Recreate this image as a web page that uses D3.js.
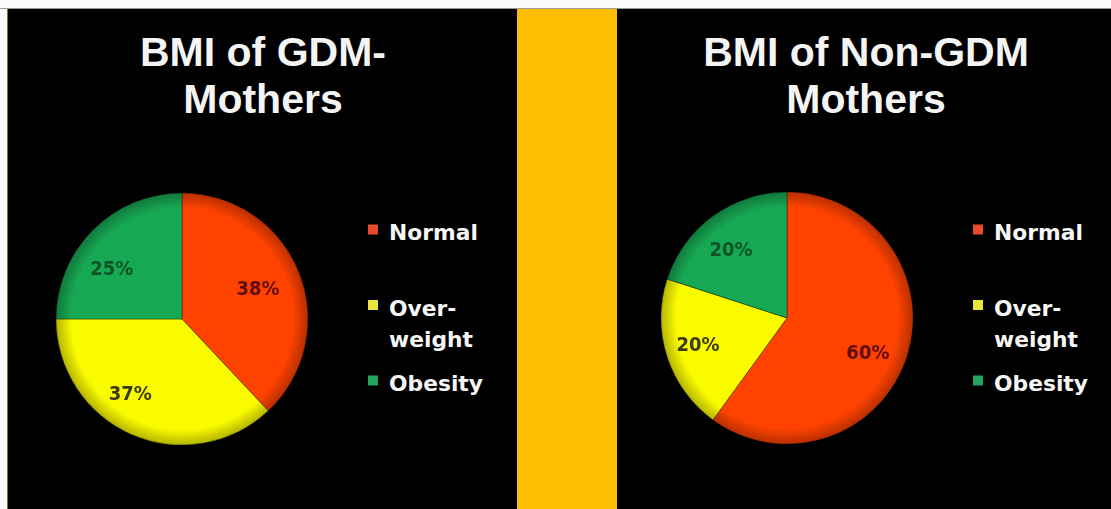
<!DOCTYPE html>
<html>
<head>
<meta charset="utf-8">
<script src="https://cdn.jsdelivr.net/npm/d3@7"></script>
<style>
  html, body { margin: 0; padding: 0; background: #ffffff; }
  svg { display: block; }
</style>
</head>
<body>
<svg id="chart" width="1111" height="509"></svg>
<script>
// ---- data ----
const categories = ["Normal", "Over-weight", "Obesity"];
const legendLines = [["Normal"], ["Over-", "weight"], ["Obesity"]];
const gdmValues = [38, 37, 25];
const nonGdmValues = [60, 20, 20];
const gdmTitle = ["BMI of GDM-", "Mothers"];
const nonGdmTitle = ["BMI of Non-GDM", "Mothers"];

// ---- styles / layout ----
const sliceColors = ["#ff4200", "#fbfb00", "#17a853"];
const labelColors = ["#5e0c0c", "#3a3a12", "#0c5326"];
const legendColors = ["#e84a2c", "#e6e63a", "#21a461"];

const svg = d3.select("#chart");
const W = 1111, H = 509;

svg.append("rect").attr("x", 0).attr("y", 0).attr("width", W).attr("height", H).attr("fill", "#fbfbfb");
svg.append("line").attr("x1", 0).attr("x2", W).attr("y1", 8.5).attr("y2", 8.5).attr("stroke", "#9a9a9a").attr("stroke-width", 1);
// left border accent
svg.append("rect").attr("x", 7).attr("y", 9).attr("width", 2).attr("height", H - 9).attr("fill", "#8a6a3a");
// panels
svg.append("rect").attr("x", 8).attr("y", 9).attr("width", 509).attr("height", H - 9).attr("fill", "#000000");
svg.append("rect").attr("x", 517).attr("y", 9).attr("width", 100).attr("height", H - 9).attr("fill", "#fdbd00");
svg.append("rect").attr("x", 617).attr("y", 9).attr("width", W - 617).attr("height", H - 9).attr("fill", "#000000");

const defs = svg.append("defs");
const rg = defs.append("radialGradient").attr("id", "rim").attr("cx", "50%").attr("cy", "50%").attr("r", "50%");
rg.append("stop").attr("offset", "0.88").attr("stop-color", "#000").attr("stop-opacity", 0);
rg.append("stop").attr("offset", "1").attr("stop-color", "#000").attr("stop-opacity", 0.28);
const blur = defs.append("filter").attr("id", "soft").attr("x", "-10%").attr("y", "-10%").attr("width", "120%").attr("height", "120%");
blur.append("feGaussianBlur").attr("stdDeviation", 0.6);

const color = d3.scaleOrdinal().domain(categories).range(sliceColors);
const labelColor = d3.scaleOrdinal().domain(categories).range(labelColors);
const legendColor = d3.scaleOrdinal().domain(categories).range(legendColors);

function drawPanel(cfg) {
  const g = svg.append("g");
  // title
  const t = g.append("text")
    .attr("x", cfg.titleX).attr("y", 66)
    .attr("text-anchor", "middle")
    .attr("fill", "#f4f4f4")
    .style("font-family", "'Liberation Sans', Arial, sans-serif")
    .style("font-weight", "bold")
    .style("font-size", "41px");
  cfg.title.forEach((line, i) => {
    t.append("tspan").attr("x", cfg.titleX).attr("y", 66 + i * 47).text(line);
  });

  // pie
  const R = 126;
  const data = categories.map((c, i) => ({ cat: c, value: cfg.values[i] }));
  const pie = d3.pie().sort(null).value(d => d.value);
  const arc = d3.arc().innerRadius(0).outerRadius(R);
  const labelArc = d3.arc().innerRadius(R * 0.675).outerRadius(R * 0.675);
  const pg = g.append("g").attr("transform", `translate(${cfg.cx},${cfg.cy})`);
  const arcs = pie(data);
  pg.selectAll("path.slice").data(arcs).join("path")
    .attr("class", "slice")
    .attr("d", arc)
    .attr("fill", d => color(d.data.cat))
    .attr("stroke", "rgba(0,0,0,0.35)")
    .attr("stroke-width", 1);
  pg.append("circle").attr("r", R).attr("fill", "url(#rim)");
  pg.selectAll("text.lbl").data(arcs).join("text")
    .attr("class", "lbl")
    .attr("transform", (d, i) => {
      const c = labelArc.centroid(d);
      const n = cfg.nudge[i];
      return `translate(${c[0] + n[0]},${c[1] + n[1]})`;
    })
    .attr("text-anchor", "middle")
    .attr("dy", "0.36em")
    .attr("fill", d => labelColor(d.data.cat))
    .attr("filter", "url(#soft)")
    .style("font-family", "'DejaVu Sans Condensed', 'DejaVu Sans', sans-serif")
    .style("font-stretch", "condensed")
    .style("font-weight", "bold")
    .style("font-size", "20px")
    .text(d => d.data.value + "%");

  // legend
  const lg = g.append("g");
  const y = d3.scalePoint().domain(categories).range([240, 391]);
  categories.forEach((c, i) => {
    const base = y(c);
    lg.append("rect")
      .attr("x", cfg.legX - 21).attr("y", base - 15.5).attr("width", 10).attr("height", 10)
      .attr("fill", legendColor(c));
    const tx = lg.append("text")
      .attr("x", cfg.legX).attr("y", base)
      .attr("fill", "#f6f6f6")
      .style("font-family", "'DejaVu Sans', Verdana, sans-serif")
      .style("font-weight", "bold")
      .style("font-size", "21.8px");
    legendLines[i].forEach((line, j) => {
      tx.append("tspan").attr("x", cfg.legX).attr("y", base + j * 31).text(line);
    });
  });
}

drawPanel({ title: gdmTitle, titleX: 263, values: gdmValues, cx: 182, cy: 319, legX: 389,
            nudge: [[-3, 0], [-18, -4], [-10, 9]] });
drawPanel({ title: nonGdmTitle, titleX: 866, values: nonGdmValues, cx: 787, cy: 318, legX: 994,
            nudge: [[0, 8], [-8, 0], [-6, 0]] });
</script>
</body>
</html>
